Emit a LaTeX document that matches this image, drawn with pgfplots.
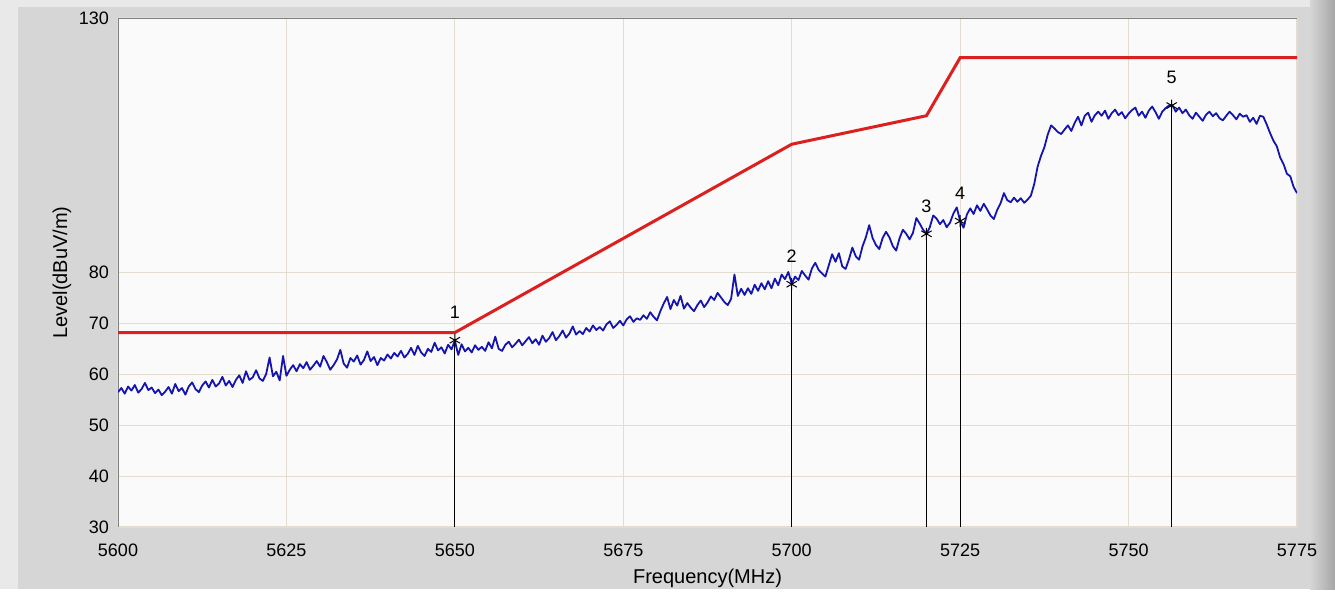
\documentclass[border=0pt]{standalone}
\usepackage{pgfplots}
\pgfplotsset{compat=1.18}
\usepackage{fontspec}
\setmainfont{Liberation Sans}
\definecolor{bggray}{HTML}{D6D6D6}
\definecolor{lightstrip}{HTML}{E9E9E9}
\definecolor{plotbg}{HTML}{FAFAFA}
\definecolor{gridc}{HTML}{E2DDCF}
\definecolor{frame}{HTML}{808080}
\definecolor{trace}{RGB}{20,20,175}
\definecolor{limit}{HTML}{DC2020}
\begin{document}
\begin{tikzpicture}
\fill[bggray] (0,0) rectangle (667.5pt,294.5pt);
\fill[lightstrip] (0,0) rectangle (9pt,294.5pt);
\fill[lightstrip] (0,291pt) rectangle (667.5pt,294.5pt);
\shade[left color=bggray, right color=gray!70] (655pt,0) rectangle (667.5pt,294.5pt);
\begin{axis}[
  at={(59pt,31pt)}, anchor=south west,
  scale only axis, width=589.5pt, height=254.5pt,
  xmin=5600, xmax=5775, ymin=30, ymax=130,
  xtick={5600,5625,5650,5675,5700,5725,5750,5775},
  ytick={30,40,50,60,70,80,130},
  grid=major,
  grid style={color=gridc, line width=0.6pt},
  axis background/.style={fill=plotbg},
  axis line style={draw=none},
  tick style={draw=none},
  /pgf/number format/assume math mode=true,
  /pgf/number format/set thousands separator={},
  tick label style={font=\fontsize{9}{10}\selectfont},
  xticklabel style={yshift=-5pt},
  yticklabel style={xshift=-1pt},
  xlabel={Frequency(MHz)},
  ylabel={Level(dBuV/m)},
  label style={font=\fontsize{9}{10}\selectfont},
  every axis x label/.style={at={(axis description cs:0.5,-0.1002)}, anchor=center},
  every axis y label/.style={at={(axis description cs:-0.0475,0.5)}, rotate=90, anchor=center},
  clip=true,
]
\draw[frame, line width=0.8pt] (rel axis cs:0,0) -- (rel axis cs:0,1) -- (rel axis cs:1,1);
% marker vertical lines
\addplot[ycomb, black, line width=0.6pt, mark=none] coordinates {
(5650,66.7) (5700,77.7) (5720,87.6) (5725,90.1) (5756.4,112.8)};
% limit line
\addplot[limit, line width=1.5pt, mark=none] coordinates {
(5600,68.2) (5650,68.2) (5700,105.2) (5720,110.8) (5725,122.2) (5775,122.2)};
% measured trace
\addplot[trace, line width=0.9pt, mark=none, line join=round] coordinates {
(5600.0,56.5) (5600.5,57.3) (5601.0,56.2) (5601.5,57.6) (5602.0,56.8) (5602.5,57.9) (5603.0,56.4) (5603.5,57.1) (5604.0,58.3) (5604.5,56.9)
(5605.0,57.4) (5605.5,56.3) (5606.0,57.0) (5606.5,55.9) (5607.0,56.6) (5607.5,57.5) (5608.0,56.2) (5608.5,58.1) (5609.0,56.7) (5609.5,57.3)
(5610.0,56.0) (5610.5,57.6) (5611.0,58.4) (5611.5,57.1) (5612.0,56.5) (5612.5,57.8) (5613.0,58.6) (5613.5,57.4) (5614.0,58.9) (5614.5,57.6)
(5615.0,58.2) (5615.5,59.5) (5616.0,57.8) (5616.5,58.7) (5617.0,57.5) (5617.5,58.9) (5618.0,59.8) (5618.5,58.3) (5619.0,60.6) (5619.5,58.9)
(5620.0,59.4) (5620.5,60.8) (5621.0,59.2) (5621.5,58.7) (5622.0,60.1) (5622.5,63.3) (5623.0,59.6) (5623.5,60.5) (5624.0,58.8) (5624.5,63.6)
(5625.0,59.7) (5625.5,60.9) (5626.0,61.8) (5626.5,60.6) (5627.0,62.0) (5627.5,61.2) (5628.0,62.4) (5628.5,60.9) (5629.0,61.7) (5629.5,62.6)
(5630.0,61.5) (5630.5,63.6) (5631.0,62.4) (5631.5,60.9) (5632.0,61.8) (5632.5,62.9) (5633.0,64.8) (5633.5,62.1) (5634.0,61.3) (5634.5,63.2)
(5635.0,62.5) (5635.5,63.7) (5636.0,61.9) (5636.5,62.8) (5637.0,64.5) (5637.5,62.6) (5638.0,63.4) (5638.5,61.8) (5639.0,63.2) (5639.5,62.7)
(5640.0,63.9) (5640.5,63.1) (5641.0,64.2) (5641.5,63.5) (5642.0,64.6) (5642.5,63.3) (5643.0,64.0) (5643.5,65.2) (5644.0,63.8) (5644.5,65.6)
(5645.0,64.3) (5645.5,63.6) (5646.0,65.0) (5646.5,64.4) (5647.0,66.2) (5647.5,64.7) (5648.0,65.3) (5648.5,64.1) (5649.0,65.8) (5649.5,64.9)
(5650.0,66.6) (5650.5,63.8) (5651.0,65.9) (5651.5,64.5) (5652.0,65.2) (5652.5,64.3) (5653.0,65.7) (5653.5,64.8) (5654.0,65.4) (5654.5,64.6)
(5655.0,66.3) (5655.5,65.1) (5656.0,67.4) (5656.5,65.0) (5657.0,64.6) (5657.5,65.8) (5658.0,66.4) (5658.5,65.3) (5659.0,66.0) (5659.5,66.8)
(5660.0,65.7) (5660.5,66.5) (5661.0,67.3) (5661.5,66.1) (5662.0,66.9) (5662.5,65.8) (5663.0,67.6) (5663.5,66.4) (5664.0,67.1) (5664.5,68.3)
(5665.0,66.7) (5665.5,67.5) (5666.0,68.6) (5666.5,67.2) (5667.0,68.0) (5667.5,69.4) (5668.0,67.8) (5668.5,68.5) (5669.0,67.9) (5669.5,69.1)
(5670.0,68.4) (5670.5,69.6) (5671.0,68.7) (5671.5,69.3) (5672.0,68.6) (5672.5,69.8) (5673.0,70.4) (5673.5,69.1) (5674.0,69.7) (5674.5,70.5)
(5675.0,69.6) (5675.5,70.8) (5676.0,71.4) (5676.5,70.3) (5677.0,71.0) (5677.5,70.7) (5678.0,71.6) (5678.5,70.9) (5679.0,72.2) (5679.5,71.3)
(5680.0,70.6) (5680.5,72.4) (5681.0,73.9) (5681.5,75.2) (5682.0,72.8) (5682.5,74.6) (5683.0,73.5) (5683.5,75.4) (5684.0,72.9) (5684.5,74.0)
(5685.0,73.1) (5685.5,72.4) (5686.0,73.6) (5686.5,74.5) (5687.0,73.2) (5687.5,74.1) (5688.0,75.3) (5688.5,74.6) (5689.0,76.0) (5689.5,75.1)
(5690.0,74.2) (5690.5,73.6) (5691.0,74.8) (5691.5,79.6) (5692.0,75.4) (5692.5,76.8) (5693.0,75.6) (5693.5,76.9) (5694.0,75.8) (5694.5,77.6)
(5695.0,76.4) (5695.5,77.9) (5696.0,76.7) (5696.5,78.3) (5697.0,76.9) (5697.5,78.8) (5698.0,77.5) (5698.5,79.6) (5699.0,78.7) (5699.5,80.1)
(5700.0,77.8) (5700.5,79.2) (5701.0,78.5) (5701.5,80.3) (5702.0,79.4) (5702.5,78.6) (5703.0,80.8) (5703.5,81.9) (5704.0,80.5) (5704.5,79.8)
(5705.0,79.2) (5705.5,81.4) (5706.0,83.6) (5706.5,82.1) (5707.0,83.8) (5707.5,81.2) (5708.0,80.7) (5708.5,82.6) (5709.0,84.9) (5709.5,83.2)
(5710.0,82.5) (5710.5,85.1) (5711.0,86.9) (5711.5,89.3) (5712.0,86.8) (5712.5,85.4) (5713.0,84.6) (5713.5,86.8) (5714.0,88.0) (5714.5,86.9)
(5715.0,85.2) (5715.5,84.3) (5716.0,86.7) (5716.5,88.4) (5717.0,87.6) (5717.5,86.5) (5718.0,87.8) (5718.5,90.7) (5719.0,89.6) (5719.5,88.4)
(5720.0,87.6) (5720.5,88.9) (5721.0,91.2) (5721.5,90.6) (5722.0,89.5) (5722.5,90.3) (5723.0,88.9) (5723.5,89.8) (5724.0,91.6) (5724.5,92.8)
(5725.0,90.1) (5725.5,88.8) (5726.0,91.4) (5726.5,92.6) (5727.0,91.5) (5727.5,93.2) (5728.0,92.1) (5728.5,93.5) (5729.0,92.4) (5729.5,91.2)
(5730.0,90.5) (5730.5,92.3) (5731.0,93.6) (5731.5,95.6) (5732.0,94.2) (5732.5,93.8) (5733.0,94.7) (5733.5,93.9) (5734.0,94.6) (5734.5,93.7)
(5735.0,94.3) (5735.5,95.1) (5736.0,97.4) (5736.5,100.8) (5737.0,102.9) (5737.5,104.6) (5738.0,107.1) (5738.5,108.9) (5739.0,108.3) (5739.5,107.6)
(5740.0,107.2) (5740.5,108.1) (5741.0,108.9) (5741.5,107.8) (5742.0,109.4) (5742.5,110.6) (5743.0,108.9) (5743.5,110.8) (5744.0,111.4) (5744.5,109.6)
(5745.0,110.9) (5745.5,111.6) (5746.0,110.8) (5746.5,111.8) (5747.0,110.2) (5747.5,111.3) (5748.0,112.0) (5748.5,110.9) (5749.0,111.5) (5749.5,110.3)
(5750.0,111.2) (5750.5,111.9) (5751.0,112.4) (5751.5,110.8) (5752.0,111.6) (5752.5,110.4) (5753.0,111.8) (5753.5,112.6) (5754.0,111.5) (5754.5,110.2)
(5755.0,111.6) (5755.5,112.3) (5756.0,112.8) (5756.5,112.9) (5757.0,111.6) (5757.5,112.4) (5758.0,111.3) (5758.5,112.0) (5759.0,110.9) (5759.5,110.2)
(5760.0,111.4) (5760.5,110.6) (5761.0,109.8) (5761.5,111.0) (5762.0,111.6) (5762.5,110.7) (5763.0,111.3) (5763.5,110.3) (5764.0,109.9) (5764.5,110.8)
(5765.0,111.6) (5765.5,110.9) (5766.0,110.1) (5766.5,111.2) (5767.0,110.6) (5767.5,110.9) (5768.0,109.6) (5768.5,110.4) (5769.0,109.2) (5769.5,110.8)
(5770.0,110.6) (5770.5,109.1) (5771.0,107.4) (5771.5,105.9) (5772.0,104.8) (5772.5,102.6) (5773.0,101.3) (5773.5,99.4) (5774.0,98.9) (5774.5,96.8)
(5775.0,95.6)};
% markers with numbers
\addplot[only marks, mark=asterisk, mark size=3pt, black, mark options={line width=0.5pt},
  point meta=explicit symbolic, nodes near coords,
  every node near coord/.append style={anchor=center, yshift=14pt, font=\fontsize{9}{10}\selectfont, black}]
  coordinates {
(5650,66.7) [1] (5700,77.7) [2] (5720,87.6) [3] (5725,90.1) [4] (5756.4,112.8) [5]};
\end{axis}
\end{tikzpicture}
\end{document}
